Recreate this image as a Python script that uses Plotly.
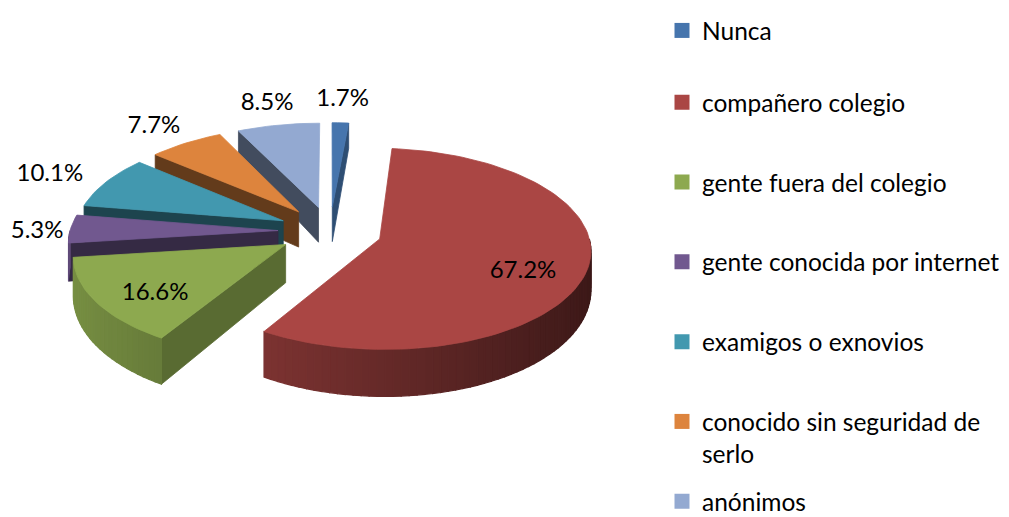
import math
import plotly.graph_objects as go

# ---- data ----
categories = ["Nunca", "compañero colegio", "gente fuera del colegio",
              "gente conocida por internet", "examigos o exnovios",
              "conocido sin seguridad de serlo", "anónimos"]
values = [1.7, 67.2, 16.6, 5.3, 10.1, 7.7, 8.5]
legend_labels = ["Nunca", "compañero colegio", "gente fuera del colegio",
                 "gente conocida por internet", "examigos o exnovios",
                 "conocido sin seguridad de<br>serlo", "anónimos"]
colors = ["#4675AD", "#AA4644", "#8DA94F", "#71588F", "#4298AF", "#DD843D", "#93A9D1"]

# ---- layout constants ----
W, H = 1009, 517
OFF = 8            # page offset of the plot div (body margin)
CX, CY = 330, 231
RX, RY = 208, 99
DEPTH = 37
PERSP = 0.10
DEPTH_PERSP = 0.25
EXPLODE = 0.25
FONT = "Lato"
LABEL_SIZE = 24
LEGEND_SIZE = 24.5
LEG_FIRST, LEG_STEP, LEG_TOP_OFF = 22, 79.8, 22
LEG_TEXT_X = 703


def proj(u, v, z=0.0):
    s = 1 + PERSP * v
    return CX + RX * u * s, CY + RY * v * s + z * (1 + DEPTH_PERSP * v)


def shade(hexc, f):
    h = hexc.lstrip("#")
    r, g, b = (int(h[i:i + 2], 16) for i in (0, 2, 4))
    return "rgb(%d,%d,%d)" % (min(255, r * f), min(255, g * f), min(255, b * f))


def poly(xs, ys, color, lw=0.8):
    return go.Scatter(x=xs + [xs[0]], y=ys + [ys[0]], mode="lines", fill="toself",
                      fillcolor=color, line=dict(color=color, width=lw),
                      hoverinfo="skip", showlegend=False)


total = sum(values)
slices = []
acc = 0.0
for i, v in enumerate(values):
    a0 = acc / total * 360
    acc += v
    a1 = acc / total * 360
    slices.append((i, a0, a1))

order = sorted(slices, key=lambda s: -math.cos(math.radians((s[1] + s[2]) / 2)))

fig = go.Figure()
lab_x, lab_y, lab_t = [], [], []

for i, a0, a1 in order:
    m = math.radians((a0 + a1) / 2)
    ex, ey = EXPLODE * math.sin(m), -EXPLODE * math.cos(m)
    col = colors[i]

    def pt(theta_deg, z=0.0, k=1.0):
        t = math.radians(theta_deg)
        return proj(ex + k * math.sin(t), ey - k * math.cos(t), z)

    apex_top = proj(ex, ey, 0)
    apex_bot = proj(ex, ey, DEPTH)

    # radial (cut) faces that face the viewer
    for edge, normal in ((a0, a0 - 90), (a1, a1 + 90)):
        if math.cos(math.radians(normal)) < -1e-6:
            f = 0.45 + 0.22 * max(0.0, math.sin(math.radians(normal)))
            p1, p2 = pt(edge), pt(edge, DEPTH)
            fig.add_trace(poly([apex_top[0], p1[0], p2[0], apex_bot[0]],
                               [apex_top[1], p1[1], p2[1], apex_bot[1]], shade(col, f)))

    # outer wall (front half only), shaded in thin strips
    lo, hi = max(a0, 90.0), min(a1, 270.0)
    if hi > lo:
        n = max(1, int(math.ceil((hi - lo) / 2)))
        for j in range(n):
            t0 = lo + (hi - lo) * j / n
            t1 = lo + (hi - lo) * (j + 1) / n
            tm = math.radians((t0 + t1) / 2)
            f = 0.6 - 0.25 * math.sin(tm)
            q = [pt(t0), pt(t1), pt(t1, DEPTH), pt(t0, DEPTH)]
            fig.add_trace(poly([p[0] for p in q], [p[1] for p in q], shade(col, f), lw=1.2))

    # top face
    n = max(2, int(math.ceil((a1 - a0) / 2)))
    xs, ys = [apex_top[0]], [apex_top[1]]
    for j in range(n + 1):
        p = pt(a0 + (a1 - a0) * j / n)
        xs.append(p[0]); ys.append(p[1])
    fig.add_trace(poly(xs, ys, col))

    # data label
    txt = "%.1f%%" % values[i]
    share = values[i] / total
    sm, cm = math.sin(m), math.cos(m)
    if share > 0.12:
        lx, ly = proj(ex + 0.7 * sm, ey - 0.7 * cm)
        ly += 10
    else:
        ndig = sum(ch.isdigit() for ch in txt)
        half_w = 0.5 * LABEL_SIZE * (0.58 * ndig + 0.27 + 0.83)
        ax, ay = proj(ex + 1.15 * sm, ey - 1.15 * cm)
        lx = max(ax + half_w * sm, half_w + 10)
        ly = ay - 12 * cm + 4 * abs(sm)
    lab_x.append(lx); lab_y.append(ly); lab_t.append(txt)

fig.add_trace(go.Scatter(x=lab_x, y=lab_y, text=lab_t, mode="text", textposition="middle center",
                         textfont=dict(family=FONT, size=LABEL_SIZE, color="#000000"),
                         hoverinfo="skip", showlegend=False))

# legend entries: one small legend per entry, stacked at a fixed pitch
legends = {}
for i, name in enumerate(legend_labels):
    lid = "legend" if i == 0 else "legend%d" % (i + 1)
    fig.add_trace(go.Scatter(x=[None], y=[None], mode="markers", name=name,
                             legend=lid,
                             marker=dict(symbol="square", size=15, color=colors[i])))
    top_page = LEG_FIRST + LEG_STEP * i - LEG_TOP_OFF
    legends[lid] = dict(xanchor="left", x=(LEG_TEXT_X - 41 - OFF) / W,
                        yanchor="top", y=min(1.0, 1 - (top_page - OFF) / H),
                        bgcolor="rgba(0,0,0,0)",
                        font=dict(family=FONT, size=LEGEND_SIZE, color="#000000"),
                        itemsizing="trace", valign="top")

fig.update_layout(
    width=W, height=H,
    margin=dict(l=0, r=0, t=0, b=0, autoexpand=False),
    paper_bgcolor="white", plot_bgcolor="white",
    xaxis=dict(range=[OFF, W + OFF], visible=False, fixedrange=True),
    yaxis=dict(range=[H + OFF, OFF], visible=False, fixedrange=True),
    hovermode=False,
    **legends,
)

fig.write_html("out.html")
